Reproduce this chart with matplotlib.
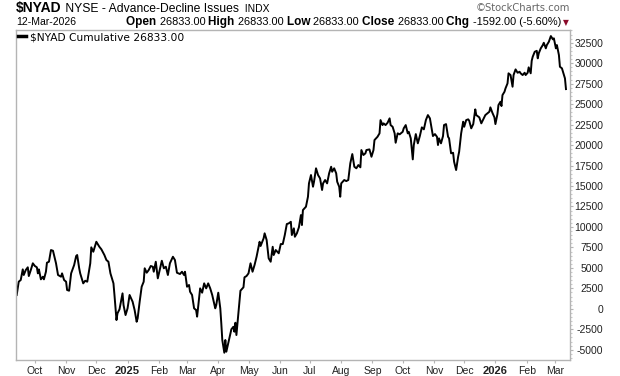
import numpy as np
import pandas as pd
import matplotlib
matplotlib.use("Agg")
import matplotlib.pyplot as plt
from matplotlib.offsetbox import TextArea, HPacker, AnchoredOffsetbox

# Data (days since start_date, cumulative A/D value)
start_date = "2024-09-13"
day_offsets = [
    0, 2, 4, 6, 7, 9, 11, 12, 14, 16, 18, 20, 21, 22, 24, 26, 27, 29, 30, 32,
    34, 36, 39, 41, 44, 45, 47, 49, 50, 52, 54, 57, 59, 60, 62, 63, 66, 68, 70, 73,
    74, 76, 79, 82, 84, 87, 89, 91, 93, 96, 97, 99, 100, 102, 105, 106, 108, 110, 112, 115,
    117, 119, 120, 122, 124, 126, 127, 129, 131, 133, 135, 136, 138, 140, 144, 146, 148, 150, 152, 155,
    157, 159, 162, 164, 166, 167, 169, 171, 172, 174, 176, 178, 179, 182, 184, 186, 188, 190, 192, 194,
    197, 198, 200, 202, 203, 204, 206, 207, 208, 211, 213, 215, 216, 217, 218, 220, 222, 225, 226, 228,
    230, 232, 234, 236, 238,
    241, 242, 245, 246, 248, 250, 252, 254, 255, 257, 260, 262, 264, 266, 268, 270, 272, 273,
    275, 276, 278, 280, 282, 283, 284, 287, 289, 290, 292, 294, 295, 297, 299, 301, 303, 304, 306, 308,
    310, 312, 313, 315, 317, 318, 320, 321, 322, 325, 327, 329, 331, 333, 335, 337, 339, 341, 342, 344,
    346, 347, 350, 352, 354, 355, 358, 360, 361, 363, 364, 366, 368, 370, 371, 373, 375, 376, 378, 380,
    383, 384, 386, 388, 389, 391, 393, 394, 396, 398, 400, 402, 404, 406, 408, 410, 412, 413, 415, 417,
    418, 419, 421, 423, 424, 426, 428, 429, 431, 433, 434, 436, 438, 439, 441, 443, 444, 446, 448, 449,
    451, 453, 455, 456, 459, 461, 463, 465, 467, 469, 470, 472, 474, 475, 477, 478, 480, 481, 482, 484,
    485, 487, 488, 490, 492, 493, 495, 497, 499, 500, 502, 504, 505, 507, 508, 510, 511, 512, 514, 516,
    517, 518, 520, 522, 523, 525, 526, 528, 530, 532, 533, 535, 536, 538, 539, 541, 542, 544, 545,
]
nyad = [
    1690, 3310, 3520, 4820, 4130, 4740, 5070, 4000, 4740, 5560, 5230, 5070, 4330, 4820, 3600, 3920, 3600, 4530, 5630, 5750,
    7180, 7090, 5560, 4130, 3920, 4330, 3520, 3310, 2300, 2210, 4330, 5350, 6450, 6570, 4950, 4330, 3110, 3430, 3310, 5560,
    7510, 6970, 8190, 7580, 7270, 6570, 5960, 5750, 4330, 3110, 1690, -1370, -550, -60, 1890, 460, -760, 60, 1690, 870,
    -150, -1580, -1160, 870, 2700, 3310, 4950, 4410, 4740, 5230, 5140, 4530, 5750, 3720, 5870, 4950, 5140, 4130, 5560, 6360,
    5960, 4410, 4250, 4530, 4130, 4530, 2700, 2910, 2090, 1690, 60, -150, -960, 2500, 1970, 3110, 2500, 3110, 2500, 1690,
    60, 460, 1970, 60, -1770, -3810, -5360, -3810, -5240, -3600, -2500, -2190, -2800, -1700, -3200, -550, 2210, 2630, 3850, 4000,
    4330, 5560, 4530, 5350, 6360,
    8190, 7670, 8610, 9220, 8400, 6170, 5750, 7580, 6570, 7180, 6780, 7910, 7910, 9010, 10350, 10440, 10630, 9010,
    9830, 8800, 9220, 9950, 11450, 10230, 12060, 12470, 13690, 15320, 16340, 14910, 15520, 17160, 16340, 15930, 14510, 15320, 15730, 15320,
    16550, 17350, 16740, 17160, 16550, 15520, 14910, 13690, 15320, 15730, 15600, 15730, 17770, 18900, 17350, 17160, 17560, 17280, 19390, 18780,
    18990, 19390, 19470, 18570, 19390, 20610, 21010, 21430, 23050, 22440, 22650, 22440, 22720, 23260, 22440, 22230, 21430, 20280, 21430, 21310,
    21620, 22040, 22440, 21430, 21620, 20820, 18250, 20000, 21340, 20210, 21100, 22160, 21920, 23050, 23660, 23260, 21830, 21100, 21340, 21010,
    20000, 20820, 20210, 21100, 22440, 22560, 21010, 20820, 18990, 19060, 17960, 16950, 18570, 19180, 21430, 22850, 22230, 23050, 23140, 22970,
    22040, 22560, 24360, 23660, 23380, 22650, 23140, 23660, 23870, 24070, 24600, 23940, 23380, 22560, 23790, 24880, 25290, 24760, 26100, 26510,
    26920, 27530, 28760, 28550, 27120, 28550, 29240, 28830, 28950, 28760, 28550, 28830, 28550, 28830, 29490, 28760, 30290, 30780, 31390, 31510,
    30590, 31200, 31810, 32210, 32490, 31810, 32210, 32610, 33310, 32910, 33030, 31810, 32210, 30990, 29560, 29370, 28950, 28140, 26833,
]
month_labels = ["Oct", "Nov", "Dec", "2025", "Feb", "Mar", "Apr", "May", "Jun", "Jul",
                "Aug", "Sep", "Oct", "Nov", "Dec", "2026", "Feb", "Mar"]
y_ticks = list(range(-5000, 32501, 2500))

dates = pd.Timestamp(start_date) + pd.to_timedelta(day_offsets, unit="D")
month_starts = pd.date_range("2024-10-01", "2026-03-01", freq="MS")

W, H = 620, 376
fig = plt.figure(figsize=(W / 100, H / 100), dpi=100)
fig.patch.set_facecolor("white")
ax = fig.add_axes([16 / W, 16 / H, (570 - 16) / W, (360 - 30) / H])

ax.plot(dates, nyad, color="black", lw=1.4, solid_joinstyle="round")

ax.set_xlim(pd.Timestamp(start_date) - pd.Timedelta(days=0.7),
            pd.Timestamp(start_date) + pd.Timedelta(days=549))
ax.set_ylim(-6250, 34050)

for s in ax.spines.values():
    s.set_color("#b4b4b4")
    s.set_linewidth(1.0)

# y axis on the right, labels right-aligned
ax.yaxis.tick_right()
ax.set_yticks(y_ticks)
ax.set_yticklabels([str(v) for v in y_ticks])
ax.set_yticks(np.arange(-6000, 34001, 500), minor=True)
ax.tick_params(axis="y", which="major", length=2.5, width=0.8, color="#b4b4b4",
               pad=21.6, labelsize=7.5, labelcolor="#222222")
ax.tick_params(axis="y", which="minor", length=1.2, width=0.8, color="#c8c8c8")
for lab in ax.get_yticklabels():
    lab.set_horizontalalignment("right")
    lab.set_fontfamily("Liberation Sans")

ax.set_xticks(month_starts)
ax.set_xticklabels(month_labels)
ax.tick_params(axis="x", length=2.5, width=0.8, color="#b4b4b4", pad=2,
               labelsize=7.5, labelcolor="#222222")
for lab in ax.get_xticklabels():
    lab.set_fontfamily("Liberation Sans")
    if lab.get_text() in ("2025", "2026"):
        lab.set_fontweight("bold")
        lab.set_fontsize(8)

# legend line
ax.plot([], [], color="black", lw=2.5, label="$NYAD Cumulative 26833.00")
leg = ax.legend(loc="upper left", frameon=False, handlelength=0.7, handletextpad=0.45,
                borderaxespad=0.0, borderpad=0.2,
                prop={"family": "DejaVu Sans", "size": 7.7})
leg.legend_handles[0].set_linewidth(2.5)


def text_row(parts, x, y, loc):
    boxes = [TextArea(t, textprops=dict(fontfamily=kw.pop("family", "Liberation Sans"), **kw))
             for t, kw in parts]
    row = HPacker(children=boxes, align="baseline", pad=0, sep=0)
    anchored = AnchoredOffsetbox(loc=loc, child=row, pad=0, borderpad=0, frameon=False,
                                 bbox_to_anchor=(x / W, 1 - y / H),
                                 bbox_transform=fig.transFigure)
    fig.add_artist(anchored)


text_row([("$NYAD", dict(fontsize=10, fontweight="bold", color="black",
                         family=["Liberation Sans Narrow", "Liberation Sans"])),
          (" NYSE - Advance-Decline Issues", dict(fontsize=8.7, color="black")),
          ("  INDX", dict(fontsize=7.5, color="black"))], 16, 8, "center left")
text_row([("12-Mar-2026", dict(fontsize=7.5, color="black"))], 16, 22, "center left")

ohlc = [("Open", "26833.00 "), ("High", "26833.00 "), ("Low", "26833.00 "),
        ("Close", "26833.00 "), ("Chg", "-1592.00 (-5.60%)")]
parts = []
for name, val in ohlc:
    parts.append((name + " ", dict(fontsize=8.5, fontweight="bold", color="black")))
    parts.append((val, dict(fontsize=7.9, color="black")))
text_row(parts, 561, 22, "center right")
fig.text(566 / W, 1 - 22.5 / H, "\u25bc", fontsize=5.5, color="#8b0a2a",
         ha="center", va="center", family="DejaVu Sans")
fig.text(570 / W, 1 - 8 / H, "\u00a9StockCharts.com", fontsize=7.2, color="#666666",
         ha="right", va="center", family="DejaVu Sans")

fig.savefig("out.png", dpi=100, facecolor="white")
